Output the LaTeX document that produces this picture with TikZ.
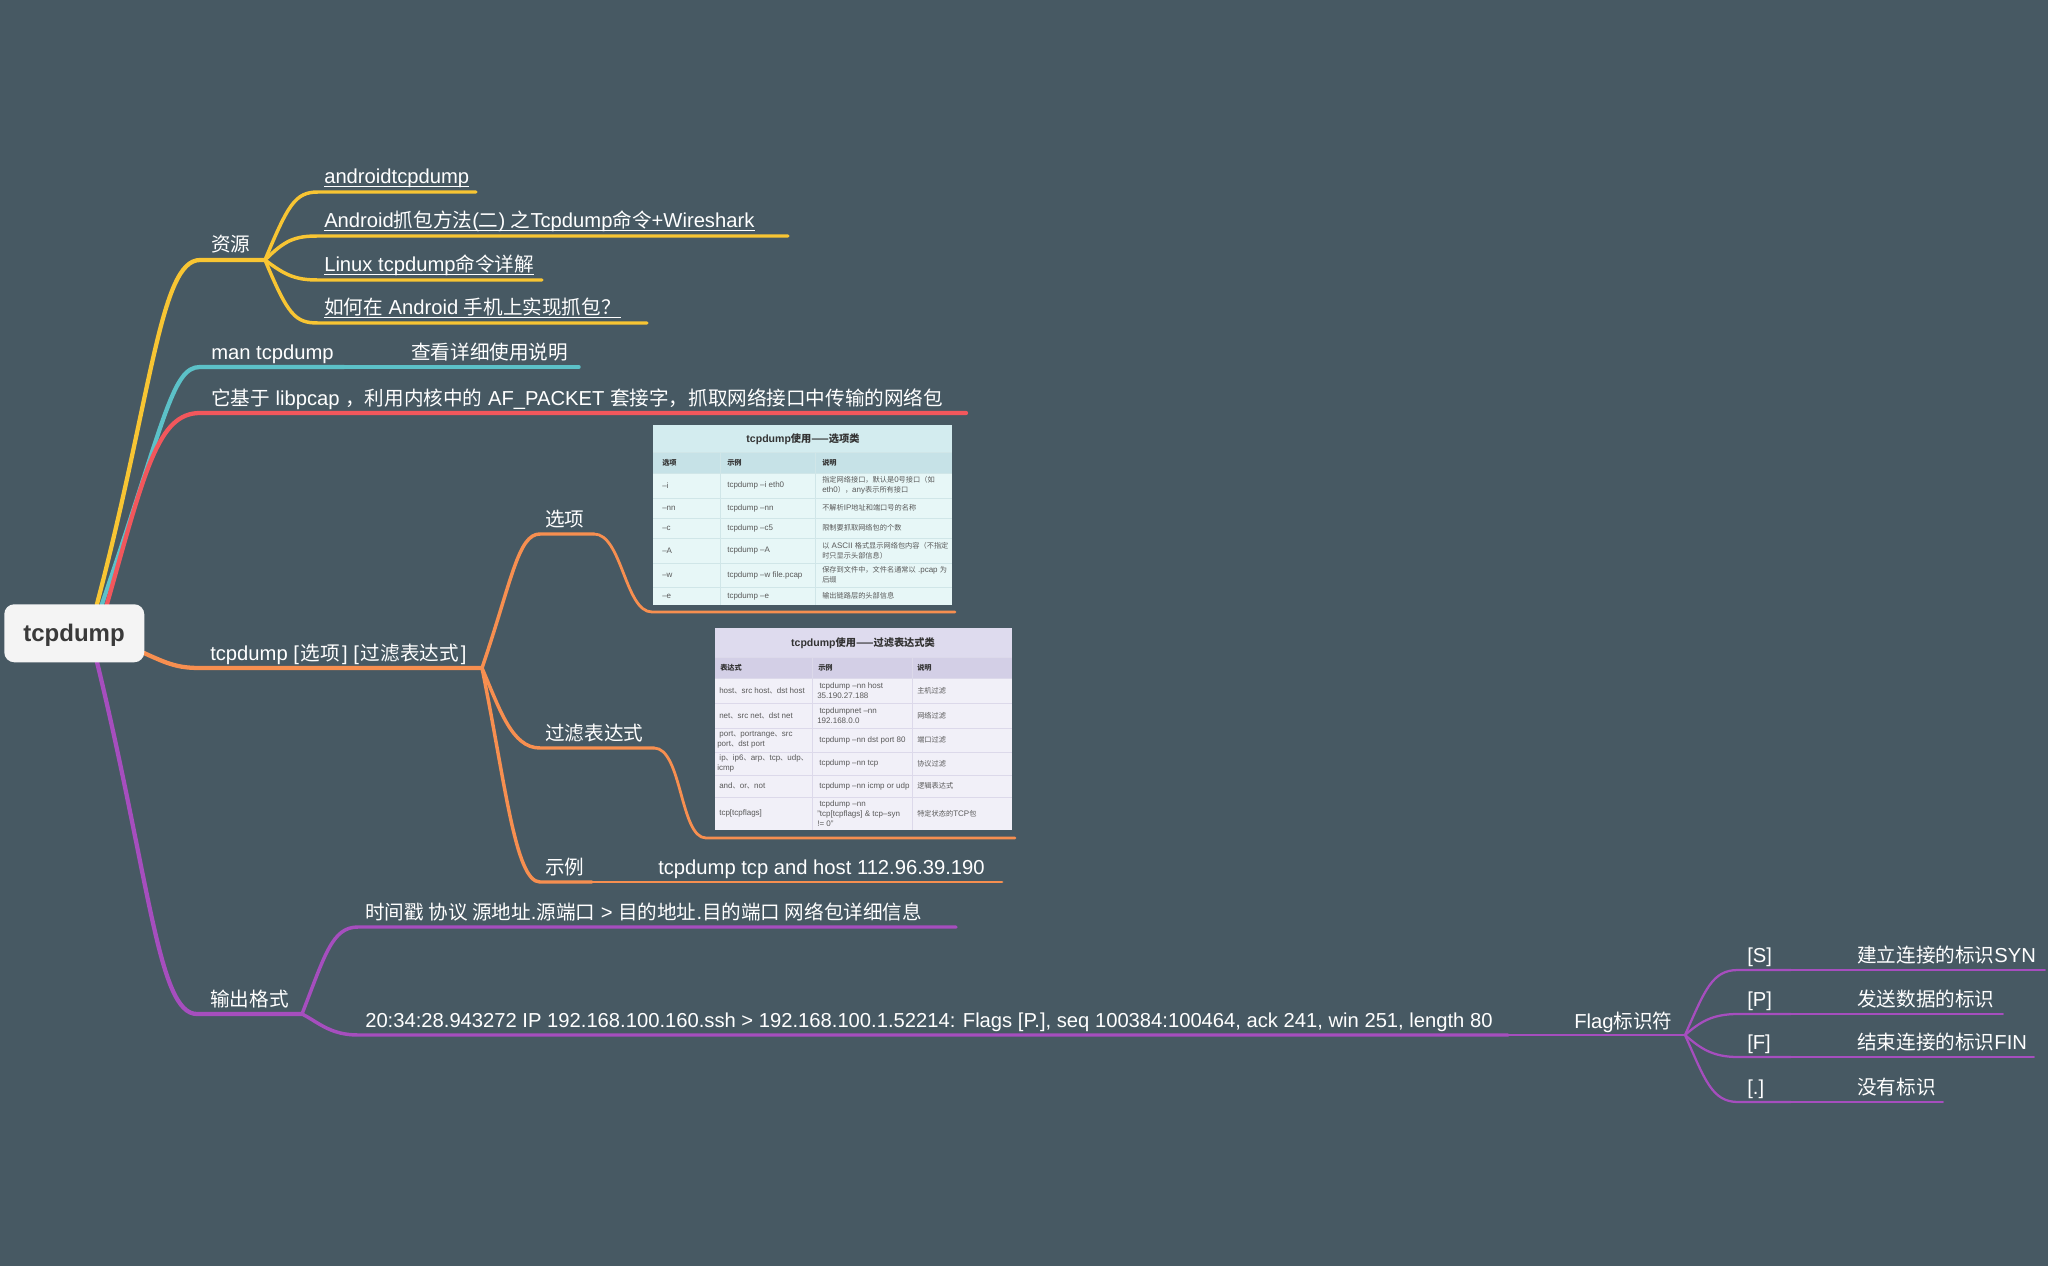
\documentclass[tikz,border=0pt]{standalone}
\usepackage{fontspec}
\setmainfont{Liberation Sans}
\newfontfamily\cjkf{Noto Sans CJK SC}[Scale=0.97]
\newfontfamily\cjks{Noto Sans CJK SC}[Scale=0.9]
\newcommand\zh[1]{{\cjkf #1}}
\newcommand\zs[1]{{\cjks #1}}
\definecolor{bgc}{HTML}{475963}
\definecolor{cyel}{HTML}{F8C533}
\definecolor{ccya}{HTML}{5CC1C8}
\definecolor{cred}{HTML}{F2575C}
\definecolor{cora}{HTML}{F78F50}
\definecolor{cpur}{HTML}{A64EBE}
\definecolor{rootfill}{HTML}{F4F4F4}
\definecolor{roottext}{HTML}{3A3A3A}
\definecolor{taTitle}{HTML}{D3ECEF}
\definecolor{taHead}{HTML}{C6E2E7}
\definecolor{taRow}{HTML}{E7F7F7}
\definecolor{taLine}{HTML}{D0E6E8}
\definecolor{tbTitle}{HTML}{DEDBEE}
\definecolor{tbHead}{HTML}{D3CFE6}
\definecolor{tbRow}{HTML}{F1F0F8}
\definecolor{tbLine}{HTML}{DCD9EA}
\begin{document}
\begin{tikzpicture}[x=0.75pt,y=-0.75pt,
  lbl/.style={text=white, font=\fontsize{15.15}{18}\selectfont, inner sep=0pt, anchor=base west},
  lnA/.style={line width=3.2pt, line cap=round},
  lnB/.style={line width=2.6pt, line cap=round},
  lnC/.style={line width=2.1pt, line cap=round},
  lnD/.style={line width=1.7pt, line cap=round},
  lnE/.style={line width=1.4pt, line cap=round},
  ulink/.style={draw=white, line width=0.8pt},
  ttl/.style={font=\bfseries\fontsize{7.9}{9}\selectfont, text=black!80, inner sep=0pt},
  thd/.style={font=\bfseries\fontsize{6}{7.5}\selectfont, text=black!80, inner sep=0pt, anchor=west},
  tcl/.style={font=\fontsize{6}{7.4}\selectfont, text=black!65, inner sep=0pt, anchor=west, align=left},
  rootbox/.style={fill=rootfill, rounded corners=7.5pt}
]
\useasboundingbox (0,0) rectangle (2048,1266);
\fill[bgc] (0,0) rectangle (2048,1266);

% ---------- coordinates ----------
\coordinate (rty) at (97,604);
\coordinate (rtc) at (102,604);
\coordinate (rtr) at (107,604);
\coordinate (rr) at (144,653);
\coordinate (rb) at (97,662);

\coordinate (jres) at (265,260);
\coordinate (jman) at (344,367);
\coordinate (ebase) at (966,413);
\coordinate (jsyn) at (482,668);
\coordinate (jopt) at (594,534);
\coordinate (jflt) at (654,748);
\coordinate (jex) at (592,882);
\coordinate (jout) at (302,1014);
\coordinate (jpkt) at (1508,1035);
\coordinate (jflag) at (1685,1035);

% ---------- level 1 connectors ----------
\draw[lnA, cyel] (rty) .. controls (152,395) and (160,260) .. (200,260) -- (jres);
\draw[lnA, ccya] (rtc) .. controls (165,420) and (172,367) .. (200,367) -- (jman);
\draw[lnB, ccya] (jman) -- (579,367);
\draw[lnA, cred] (rtr) .. controls (145,470) and (158,413) .. (200,413) -- (ebase);
\draw[lnA, cora] (rr) .. controls (168,664) and (178,668) .. (200,668) -- (jsyn);
\draw[lnA, cpur] (rb) .. controls (150,880) and (158,1014) .. (197,1014) -- (jout);

% ---------- resources children ----------
\draw[lnB, cyel] (jres) .. controls (288,205) and (295,192) .. (318,192) -- (476,192);
\draw[lnB, cyel] (jres) .. controls (285,240) and (295,236) .. (318,236) -- (788,236);
\draw[lnB, cyel] (jres) .. controls (285,275) and (295,280) .. (318,280) -- (542,280);
\draw[lnB, cyel] (jres) .. controls (288,315) and (295,323) .. (318,323) -- (647,323);

% ---------- syntax children ----------
\draw[lnB, cora] (jsyn) .. controls (512,580) and (518,534) .. (540,534) -- (jopt);
\draw[lnB, cora] (jsyn) .. controls (500,710) and (512,748) .. (540,748) -- (jflt);
\draw[lnB, cora] (jsyn) .. controls (505,780) and (515,882) .. (540,882) -- (jex);
\draw[lnC, cora] (jopt) .. controls (622,534) and (625,612) .. (652,612) -- (955,612);
\draw[lnC, cora] (jflt) .. controls (682,748) and (680,838) .. (706,838) -- (1015,838);
\draw[lnC, cora] (jex) -- (1002,882);

% ---------- output children ----------
\draw[lnB, cpur] (jout) .. controls (325,955) and (332,927) .. (358,927) -- (956,927);
\draw[lnB, cpur] (jout) .. controls (318,1022) and (330,1035) .. (358,1035) -- (jpkt);
\draw[lnC, cpur] (jpkt) -- (jflag);
\draw[lnD, cpur] (jflag) .. controls (1705,990) and (1712,970) .. (1738,970) -- (1791,970);
\draw[lnE, cpur] (1791,970) -- (2045,970);
\draw[lnD, cpur] (jflag) .. controls (1700,1022) and (1712,1014) .. (1738,1014) -- (1791,1014);
\draw[lnE, cpur] (1791,1014) -- (2003,1014);
\draw[lnD, cpur] (jflag) .. controls (1700,1048) and (1712,1057) .. (1738,1057) -- (1791,1057);
\draw[lnE, cpur] (1791,1057) -- (2034,1057);
\draw[lnD, cpur] (jflag) .. controls (1705,1080) and (1712,1102) .. (1738,1102) -- (1791,1102);
\draw[lnE, cpur] (1791,1102) -- (1943,1102);

% ---------- root ----------
\node[rootbox, minimum width=105pt, minimum height=43.5pt, anchor=north west] (root) at (4,604) {};
\node[font=\bfseries\fontsize{18}{20}\selectfont, text=roottext, inner sep=0pt] (roott) at (74,635) {tcpdump};

% ---------- labels ----------
\node[lbl] (res) at (211,252) {\zh{资源}};
\node[lbl] (l1) at (324,184) {androidtcpdump};
\node[lbl] (l2) at (324,228) {Android\zh{抓包方法}(\zh{二}) \zh{之}Tcpdump\zh{命令}+Wireshark};
\node[lbl] (l3) at (324,272) {Linux tcpdump\zh{命令详解}};
\node[lbl] (l4) at (324,315) {\zh{如何在} Android \zh{手机上实现抓包？}};
\foreach \n in {l1,l2,l3,l4}{\draw[ulink] ([yshift=-2.2pt]\n.base west) -- ([yshift=-2.2pt]\n.base east);}
\node[lbl] (man) at (211,359) {man tcpdump};
\node[lbl] (mand) at (411,359) {\zh{查看详细使用说明}};
\node[lbl] (base) at (211,405) {\zh{它基于} libpcap \zh{，利用内核中的} AF\_PACKET \zh{套接字，抓取网络接口中传输的网络包}};
\node[lbl] (syn) at (210,660) {tcpdump [\kern1.5pt\zh{选项}\kern1.5pt] [\kern1.5pt\zh{过滤表达式}\kern1.5pt]};
\node[lbl] (opt) at (545,526) {\zh{选项}};
\node[lbl] (flt) at (545,740) {\zh{过滤表达式}};
\node[lbl] (ex) at (545,874) {\zh{示例}};
\node[lbl] (exd) at (658,874) {tcpdump tcp and host 112.96.39.190};
\node[lbl] (out) at (210,1006) {\zh{输出格式}};
\node[lbl] (fmt) at (365,919) {\zh{时间戳 协议 源地址}.\zh{源端口} > \zh{目的地址}.\zh{目的端口 网络包详细信息}};
\node[lbl] (pkt) at (365,1027) {20:34:28.943272 IP 192.168.100.160.ssh > 192.168.100.1.52214: Flags [P.], seq 100384:100464, ack 241, win 251, length 80};
\node[lbl] (flag) at (1574,1028) {Flag\zh{标识符}};
\node[lbl] (fs) at (1747,962) {[S]};
\node[lbl] (fsd) at (1857,962) {\zh{建立连接的标识}SYN};
\node[lbl] (fp) at (1747,1006) {[P]};
\node[lbl] (fpd) at (1857,1006) {\zh{发送数据的标识}};
\node[lbl] (ff) at (1747,1049) {[F]};
\node[lbl] (ffd) at (1857,1049) {\zh{结束连接的标识}FIN};
\node[lbl] (fd) at (1747,1094) {[.]};
\node[lbl] (fdd) at (1857,1094) {\zh{没有标识}};

% ---------- table 1 ----------
\fill[taRow] (653,425) rectangle (952,605);
\fill[taTitle] (653,425) rectangle (952,452);
\fill[taHead] (653,452) rectangle (952,473);
\foreach \yy in {452,473,498,518,538,563,587}{\draw[taLine, line width=0.6pt] (653,\yy) -- (952,\yy);}
\foreach \xx in {720,815}{\draw[taLine, line width=0.6pt] (\xx,452) -- (\xx,605);}
\node[ttl] (t1t) at (803,439) {tcpdump\zh{使用——选项类}};
\node[thd] (t1h1) at (662,463) {\zs{选项}};
\node[thd] (t1h2) at (727,463) {\zs{示例}};
\node[thd] (t1h3) at (822,463) {\zs{说明}};
\node[tcl] at (662,485.5) {–i};
\node[tcl] at (727,485.5) {tcpdump –i eth0};
\node[tcl] at (822,485.5) {\zs{指定网络接口，默认是}0\zs{号接口（如}\\eth0\zs{），}any\zs{表示所有接口}};
\node[tcl] at (662,508) {–nn};
\node[tcl] at (727,508) {tcpdump –nn};
\node[tcl] at (822,508) {\zs{不解析}IP\zs{地址和端口号的名称}};
\node[tcl] at (662,528) {–c};
\node[tcl] at (727,528) {tcpdump –c5};
\node[tcl] at (822,528) {\zs{限制要抓取网络包的个数}};
\node[tcl] at (662,550.5) {–A};
\node[tcl] at (727,550.5) {tcpdump –A};
\node[tcl] at (822,550.5) {\zs{以} ASCII \zs{格式显示网络包内容（不指定}\\\zs{时只显示头部信息）}};
\node[tcl] at (662,575) {–w};
\node[tcl] at (727,575) {tcpdump –w file.pcap};
\node[tcl] at (822,575) {\zs{保存到文件中，文件名通常以} .pcap \zs{为}\\\zs{后缀}};
\node[tcl] at (662,596) {–e};
\node[tcl] at (727,596) {tcpdump –e};
\node[tcl] at (822,596) {\zs{输出链路层的头部信息}};

% ---------- table 2 ----------
\fill[tbRow] (715,628) rectangle (1012,830);
\fill[tbTitle] (715,628) rectangle (1012,657);
\fill[tbHead] (715,657) rectangle (1012,678);
\foreach \yy in {657,678,703,728,752,775,797}{\draw[tbLine, line width=0.6pt] (715,\yy) -- (1012,\yy);}
\foreach \xx in {812,912}{\draw[tbLine, line width=0.6pt] (\xx,657) -- (\xx,830);}
\node[ttl] (t2t) at (863,643) {tcpdump\zh{使用——过滤表达式类}};
\node[thd] (t2h1) at (720,668) {\zs{表达式}};
\node[thd] (t2h2) at (818,668) {\zs{示例}};
\node[thd] (t2h3) at (917,668) {\zs{说明}};
\node[tcl] at (719,690.5) {host\zs{、}src host\zs{、}dst host};
\node[tcl] at (817,690.5) {\ tcpdump –nn host\\35.190.27.188};
\node[tcl] at (917,690.5) {\zs{主机过滤}};
\node[tcl] at (719,715.5) {net\zs{、}src net\zs{、}dst net};
\node[tcl] at (817,715.5) {\ tcpdumpnet –nn\\192.168.0.0};
\node[tcl] at (917,715.5) {\zs{网络过滤}};
\node[tcl] at (717,740) {\ port\zs{、}portrange\zs{、}src\\port\zs{、}dst port};
\node[tcl] at (819,740) {tcpdump –nn dst port 80};
\node[tcl] at (917,740) {\zs{端口过滤}};
\node[tcl] at (717,763.5) {\ ip\zs{、}ip6\zs{、}arp\zs{、}tcp\zs{、}udp\zs{、}\\icmp};
\node[tcl] at (819,763.5) {tcpdump –nn tcp};
\node[tcl] at (917,763.5) {\zs{协议过滤}};
\node[tcl] at (719,786) {and\zs{、}or\zs{、}not};
\node[tcl] at (819,786) {tcpdump –nn icmp or udp};
\node[tcl] at (917,786) {\zs{逻辑表达式}};
\node[tcl] at (719,813.5) {tcp[tcpflags]};
\node[tcl] at (817,813.5) {\ tcpdump –nn\\"tcp[tcpflags] \& tcp–syn\\!= 0"};
\node[tcl] at (917,813.5) {\zs{特定状态的}TCP\zs{包}};
\end{tikzpicture}
\end{document}
